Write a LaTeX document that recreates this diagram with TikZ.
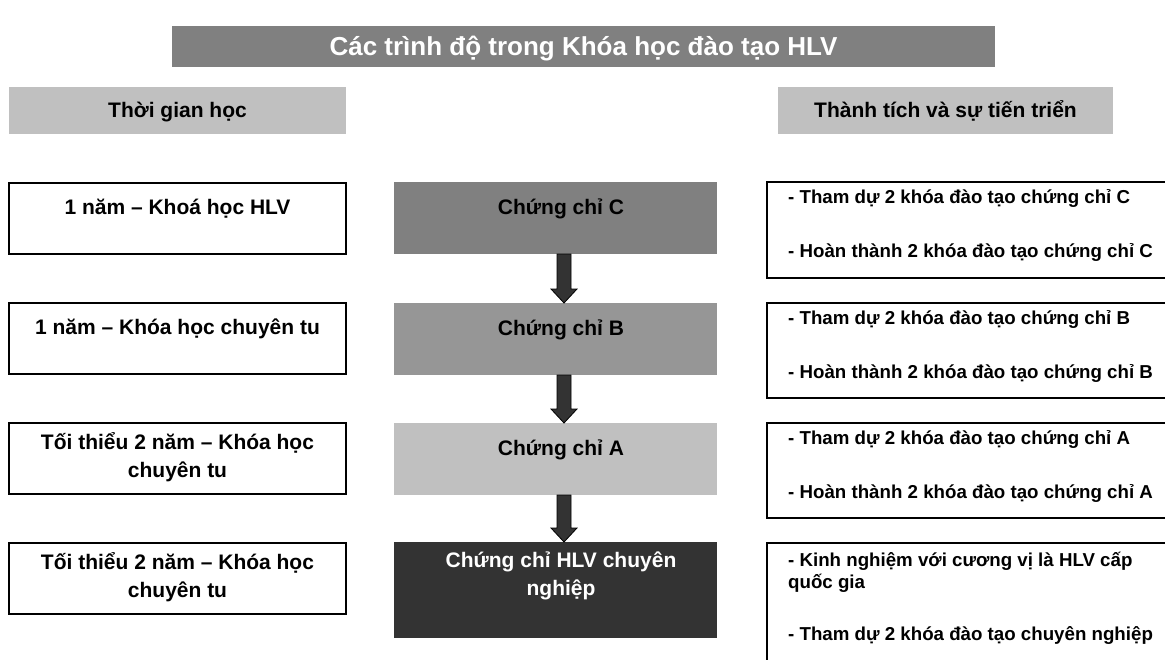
\documentclass[tikz,border=0pt]{standalone}
\usepackage{fontspec}
\setmainfont{Liberation Sans}
\usetikzlibrary{calc}
\definecolor{titlegray}{HTML}{808080}
\definecolor{headgray}{HTML}{C0C0C0}
\definecolor{certc}{HTML}{808080}
\definecolor{certb}{HTML}{969696}
\definecolor{certa}{HTML}{C0C0C0}
\definecolor{certpro}{HTML}{333333}
\definecolor{arrowfill}{HTML}{333333}
\begin{document}
\begin{tikzpicture}[x=1pt,y=-1pt,
  box/.style={rectangle, inner sep=0pt, outer sep=0pt, anchor=north west},
  titlebox/.style={box, fill=titlegray, minimum width=823pt, minimum height=41pt,
    text=white, font=\fontsize{26}{30}\selectfont\bfseries,
    text height=24pt, text depth=5.4pt},
  headbox/.style={box, fill=headgray, minimum width=337pt, minimum height=47pt,
    font=\fontsize{21}{26}\selectfont\bfseries,
    text height=19pt, text depth=5pt},
  timebox/.style={box, draw=black, line width=1.5pt, minimum width=337pt, minimum height=71pt},
  certbox/.style={box, minimum width=323pt},
  reqbox/.style={box, draw=black, line width=1.5pt, minimum width=420pt},
  maintext/.style={inner sep=0pt, anchor=north, align=center,
    font=\fontsize{21}{28}\selectfont\bfseries,
    execute at begin node={\rule{0pt}{22pt}}},
  reqtext/.style={inner sep=0pt, anchor=north west, align=left,
    font=\fontsize{18.7}{22}\selectfont\bfseries,
    execute at begin node={\rule{0pt}{19pt}}},
  downarrow/.style={fill=arrowfill, draw=black, line width=0.8pt, line join=miter}
]
\fill[white] (0,0) rectangle (1165,659);
\useasboundingbox (0,0) rectangle (1165,659);
\clip (0,0) rectangle (1165,659);

% title bar
\node[titlebox] (title) at (172,26) {Các trình độ trong Khóa học đào tạo HLV};

% column headers
\node[headbox] (headL) at (9,87) {Thời gian học};
\node[headbox, minimum width=335pt] (headR) at (778,87) {Thành tích và sự tiến triển};

% left column: study time
\node[timebox] (t1) at (9,183) {};
\node[timebox] (t2) at (9,303) {};
\node[timebox] (t3) at (9,423) {};
\node[timebox] (t4) at (9,543) {};
\node[maintext] (t1x) at ($(t1.north)+(0,9)$) {1 năm – Khoá học HLV};
\node[maintext] (t2x) at ($(t2.north)+(0,9)$) {1 năm – Khóa học chuyên tu};
\node[maintext] (t3x) at ($(t3.north)+(0,9)$) {Tối thiểu 2 năm – Khóa học\\chuyên tu};
\node[maintext] (t4x) at ($(t4.north)+(0,9)$) {Tối thiểu 2 năm – Khóa học\\chuyên tu};

% middle column: certificate levels
\node[certbox, fill=certc, minimum height=72pt] (cC) at (394,182) {};
\node[certbox, fill=certb, minimum height=72pt] (cB) at (394,303) {};
\node[certbox, fill=certa, minimum height=72pt] (cA) at (394,423) {};
\node[certbox, fill=certpro, minimum height=96pt] (cP) at (394,542) {};
\node[maintext] (cCx) at ($(cC.north)+(5.5,10)$) {Chứng chỉ C};
\node[maintext] (cBx) at ($(cB.north)+(5.5,10)$) {Chứng chỉ B};
\node[maintext] (cAx) at ($(cA.north)+(5.5,10)$) {Chứng chỉ A};
\node[maintext, text=white] (cPx) at ($(cP.north)+(5.5,10)$) {Chứng chỉ HLV chuyên\\nghiệp};

% block arrows between the levels
\foreach \u/\l in {cC/cB, cB/cA, cA/cP}{
  \draw[downarrow]
    ($(\u.south)+(1.5,0)$) -- ($(\u.south)+(15.5,0)$)
    -- ($(\l.north)+(15.5,-14)$) -- ($(\l.north)+(21.5,-14)$)
    -- ($(\l.north)+(8.5,0)$)
    -- ($(\l.north)+(-4.5,-14)$) -- ($(\l.north)+(1.5,-14)$) -- cycle;
}

% right column: achievements
\node[reqbox, minimum height=96pt] (r1) at (767,182) {};
\node[reqbox, minimum height=95pt] (r2) at (767,303) {};
\node[reqbox, minimum height=95pt] (r3) at (767,423) {};
\node[reqbox, minimum height=140pt] (r4) at (767,543) {};
\node[reqtext] (r1x) at ($(r1.north west)+(21,7)$) {- Tham dự 2 khóa đào tạo chứng chỉ C\\[32pt]- Hoàn thành 2 khóa đào tạo chứng chỉ C};
\node[reqtext] (r2x) at ($(r2.north west)+(21,7)$) {- Tham dự 2 khóa đào tạo chứng chỉ B\\[32pt]- Hoàn thành 2 khóa đào tạo chứng chỉ B};
\node[reqtext] (r3x) at ($(r3.north west)+(21,7)$) {- Tham dự 2 khóa đào tạo chứng chỉ A\\[32pt]- Hoàn thành 2 khóa đào tạo chứng chỉ A};
\node[reqtext] (r4x) at ($(r4.north west)+(21,9)$) {- Kinh nghiệm với cương vị là HLV cấp\\quốc gia\\[30pt]- Tham dự 2 khóa đào tạo chuyên nghiệp};
\end{tikzpicture}
\end{document}
